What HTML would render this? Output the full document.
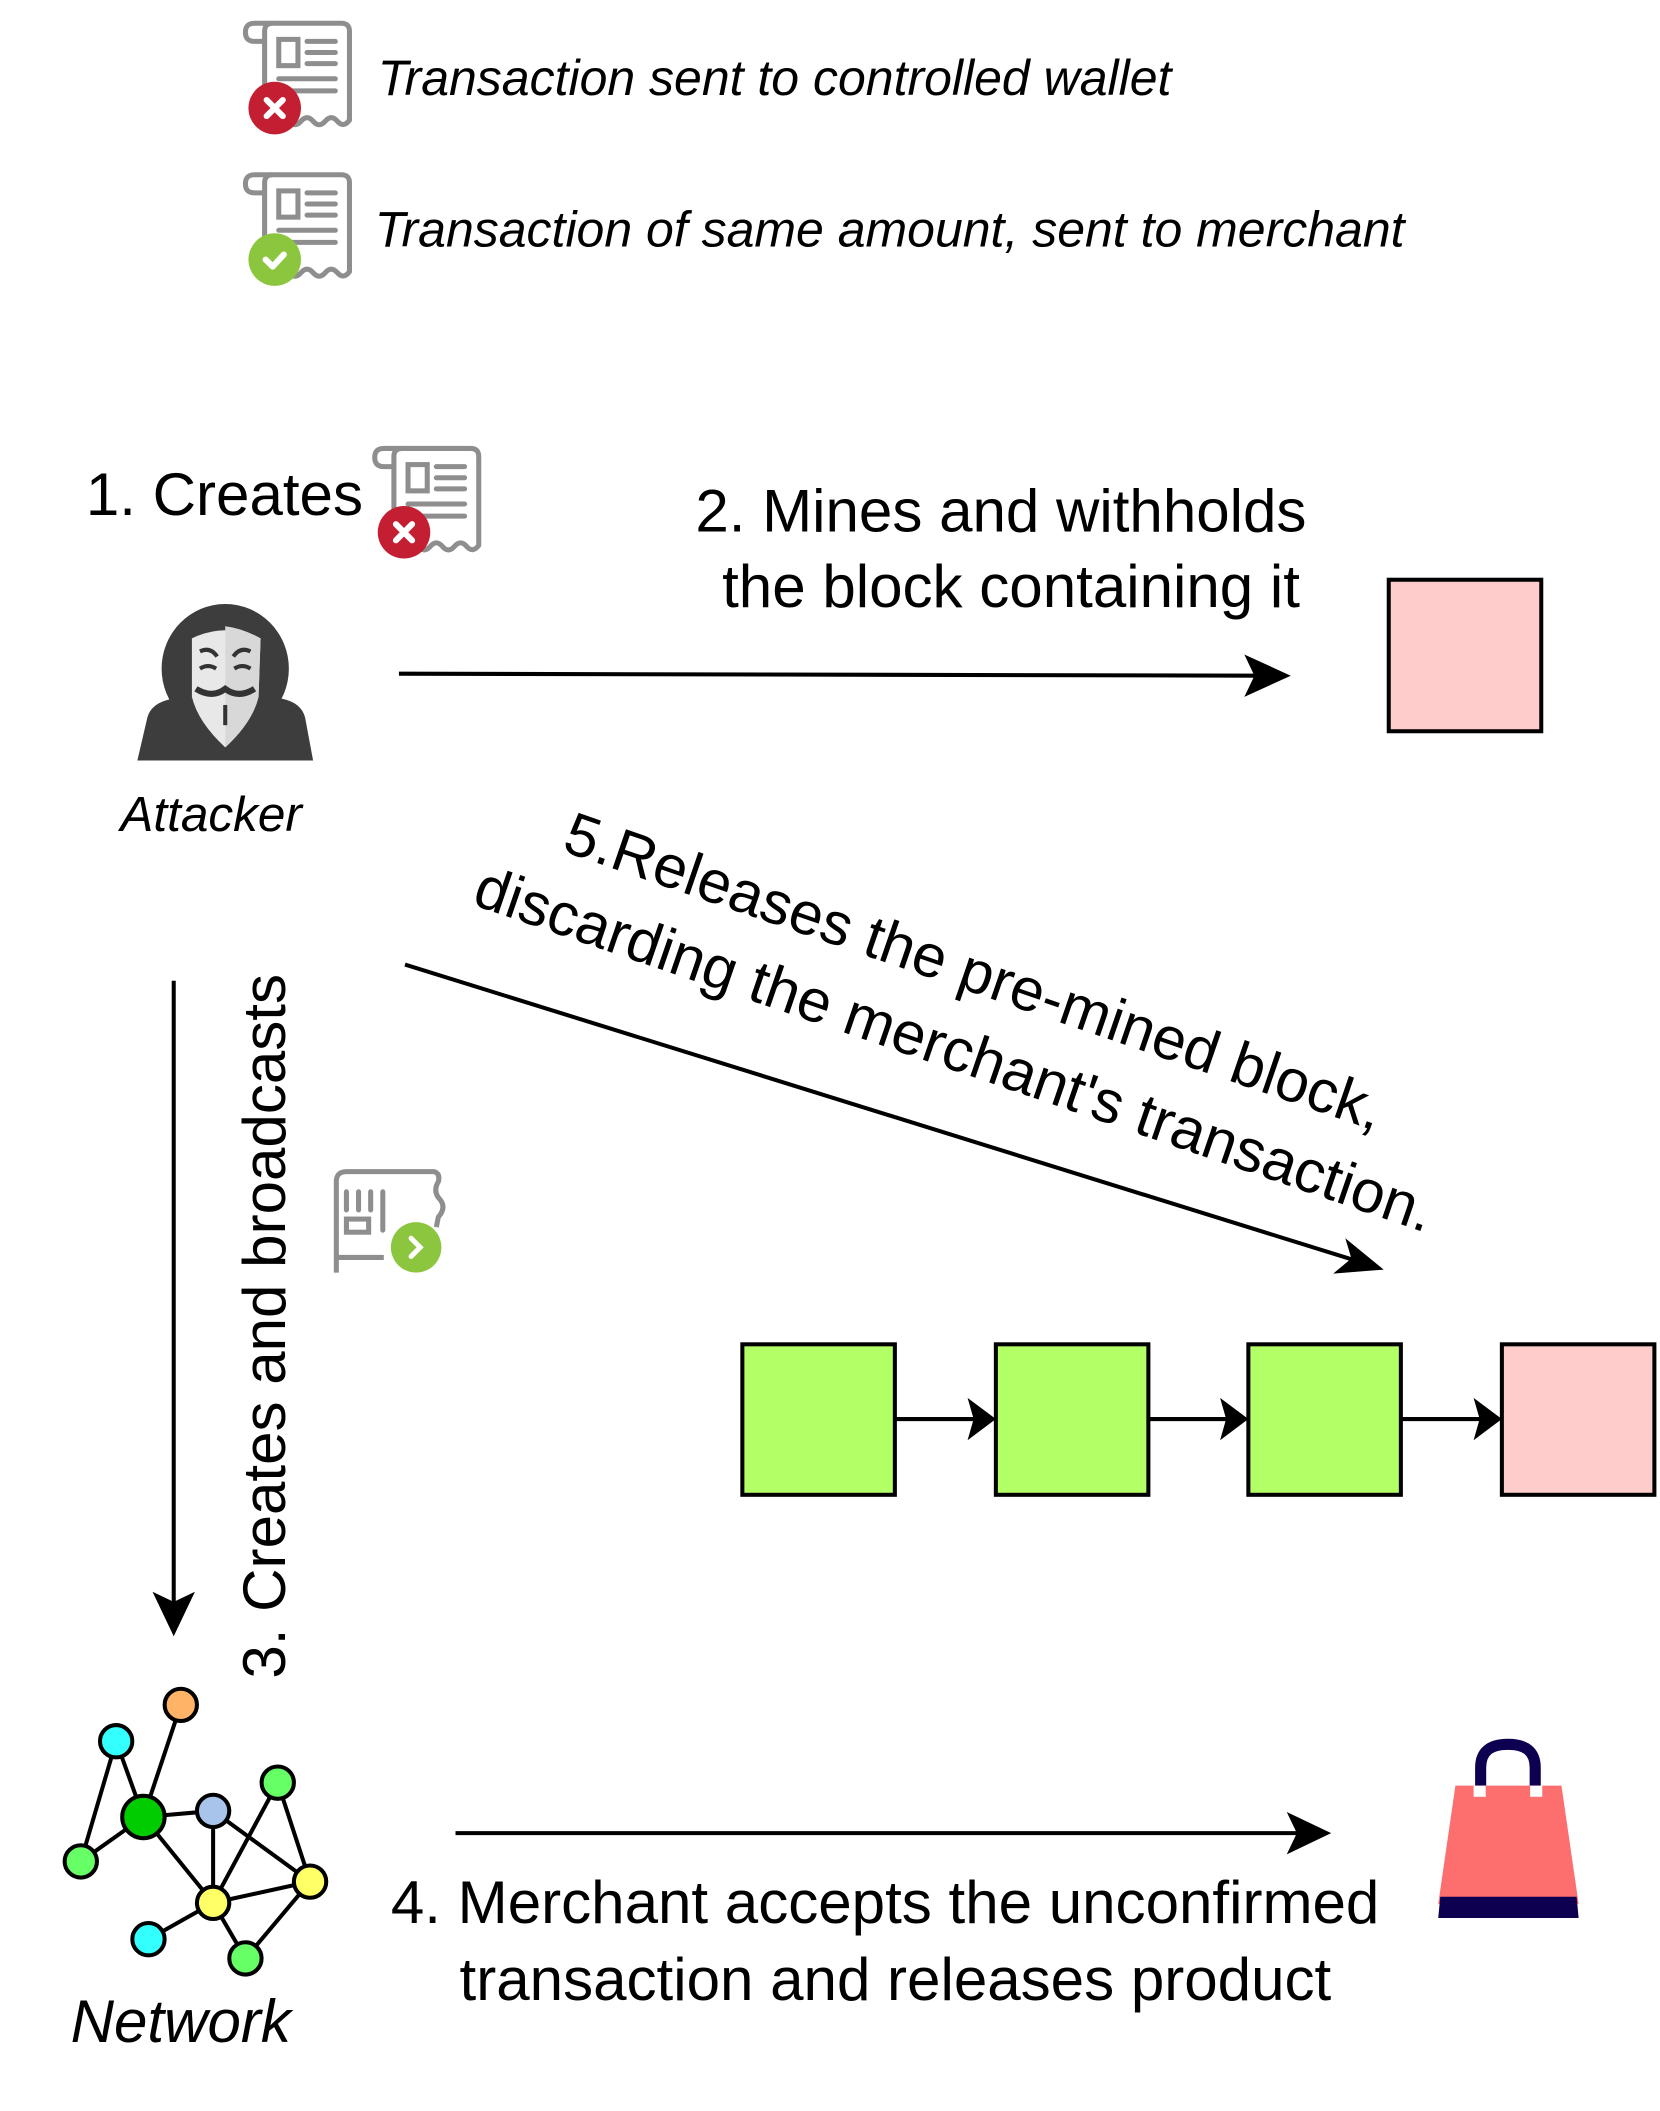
<!DOCTYPE html>
<html><head><meta charset="utf-8"><style>
html,body{margin:0;padding:0;background:#fff;}
svg{display:block;}
text{font-family:"Liberation Sans",Arial,sans-serif;fill:#000;}
</style></head><body>
<svg width="1660" height="2111" viewBox="0 0 1660 2111" xmlns="http://www.w3.org/2000/svg">
<defs>
<g id="receipt">
  <path d="M22 95 L22 12 Q22 4 30 4 L98 4 Q106 4 106 12 L106 100 Q100 108 94 101 Q88 94 82 101 Q76 108 70 101 Q64 94 58 101 Q52 108 46 101 L40 96" fill="none" stroke="#8e8e8e" stroke-width="5" stroke-linejoin="round"/>
  <path d="M30 4 L12 4 Q3 4 3 13 Q3 22 12 22 L22 22" fill="none" stroke="#8e8e8e" stroke-width="5" stroke-linejoin="round"/>
  <rect x="36" y="20" width="19" height="26" fill="none" stroke="#8e8e8e" stroke-width="5"/>
  <line x1="64" y1="22" x2="92" y2="22" stroke="#8e8e8e" stroke-width="5" stroke-linecap="round"/>
  <line x1="64" y1="33" x2="92" y2="33" stroke="#8e8e8e" stroke-width="5" stroke-linecap="round"/>
  <line x1="64" y1="44" x2="92" y2="44" stroke="#8e8e8e" stroke-width="5" stroke-linecap="round"/>
  <line x1="36" y1="59" x2="92" y2="59" stroke="#8e8e8e" stroke-width="5" stroke-linecap="round"/>
  <line x1="48" y1="71" x2="92" y2="71" stroke="#8e8e8e" stroke-width="5" stroke-linecap="round"/>
</g>
<g id="xbadge">
  <circle cx="0" cy="0" r="26" fill="#c41e32"/>
  <path d="M-8 -8 L8 8 M8 -8 L-8 8" stroke="#fff" stroke-width="6" stroke-linecap="round"/>
</g>
<g id="vbadge">
  <circle cx="0" cy="0" r="26" fill="#8cc63f"/>
  <path d="M-9 0 L-2 7 L9 -5" stroke="#fff" stroke-width="6" fill="none" stroke-linecap="round" stroke-linejoin="round"/>
</g>
</defs>
<g transform="scale(1.01)">
<!-- legend -->
<use href="#receipt" x="240" y="19"/>
<use href="#xbadge" x="272" y="107"/>
<text x="374" y="94" font-size="49.5" font-style="italic">Transaction sent to controlled wallet</text>

<use href="#receipt" x="240" y="169"/>
<use href="#vbadge" x="272" y="257"/>
<text x="371" y="244" font-size="49.5" font-style="italic">Transaction of same amount, sent to merchant</text>

<!-- 1. Creates -->
<text x="85" y="510" font-size="59.5">1. Creates</text>
<use href="#receipt" x="368" y="440"/>
<use href="#xbadge" x="400" y="527"/>

<!-- attacker -->
<g>
  <path d="M136 753 L146 710 Q150 696 170 692 L190 688 L258 688 L280 692 Q298 696 302 710 L310 753 Z" fill="#3d3d3d"/>
  <ellipse cx="223" cy="662" rx="63" ry="64" fill="#3d3d3d"/>
  <path d="M192 688 L223 740 L254 688 Z" fill="#f2b2b2"/>
  <path d="M190 632 Q223 616 258 632 L256 690 Q250 715 223 740 Q196 715 190 690 Z" fill="#e8e8e8"/>
  <path d="M223 620 Q240 622 258 632 L256 690 Q250 715 223 740 Z" fill="#d8d8d8"/>
  <path d="M198 645 Q208 640 215 650 M231 650 Q238 640 248 645" stroke="#333" stroke-width="4" fill="none"/>
  <path d="M198 662 Q206 657 214 662 M232 662 Q240 657 248 662" stroke="#333" stroke-width="4" fill="none"/>
  <path d="M194 682 Q210 692 223 682 Q236 692 252 682" stroke="#333" stroke-width="6" fill="none"/>
  <path d="M223 698 L223 718" stroke="#333" stroke-width="4"/>
</g>
<text x="209" y="823" font-size="49" font-style="italic" text-anchor="middle">Attacker</text>

<!-- 2. Mines -->
<text x="991" y="526" font-size="59.5" text-anchor="middle">2. Mines and withholds</text>
<text x="1001" y="601" font-size="59.5" text-anchor="middle">the block containing it</text>
<rect x="1375" y="574" width="151" height="150" fill="#ffcccc" stroke="#000" stroke-width="4"/>
<line x1="395" y1="667" x2="1250" y2="669" stroke="#000" stroke-width="4"/>
<path d="M1278 669 L1232 648 L1242 669 L1232 690 Z" fill="#000"/>

<!-- 5. Releases -->
<g transform="translate(555,842) rotate(19)">
  <text x="0" y="0" font-size="59.5">5.Releases the pre-mined block,</text>
</g>
<g transform="translate(466,895) rotate(19)">
  <text x="0" y="0" font-size="59.5">discarding the merchant's transaction.</text>
</g>
<line x1="401" y1="955" x2="1345" y2="1249" stroke="#000" stroke-width="4"/>
<path d="M1370 1257 L1332 1226 L1338 1246 L1320 1261 Z" fill="#000"/>

<!-- 3. vertical -->
<line x1="172" y1="971" x2="172" y2="1600" stroke="#000" stroke-width="4"/>
<path d="M172 1620 L151 1576 L172 1586 L193 1576 Z" fill="#000"/>
<g transform="translate(282,1662) rotate(-90)">
  <text x="0" y="0" font-size="59.5">3. Creates and broadcasts</text>
</g>
<!-- broadcast icon -->
<g>
  <path d="M333 1260 L333 1170 Q333 1160 343 1160 L430 1160 Q436 1162 434 1170 Q428 1180 436 1188 Q442 1196 434 1205 L432 1215" fill="none" stroke="#8e8e8e" stroke-width="5" stroke-linejoin="round"/>
  <path d="M333 1245 L380 1245" stroke="#8e8e8e" stroke-width="5"/>
  <path d="M343 1180 L343 1198 M355 1180 L355 1198 M367 1180 L367 1198 M379 1180 L379 1218" stroke="#8e8e8e" stroke-width="5" stroke-linecap="round"/>
  <rect x="343" y="1207" width="22" height="13" fill="none" stroke="#8e8e8e" stroke-width="5"/>
  <circle cx="412" cy="1235" r="25" fill="#8cc63f"/>
  <path d="M407 1226 L416 1235 L407 1244" stroke="#fff" stroke-width="5" fill="none" stroke-linecap="round"/>
</g>

<!-- chain -->
<rect x="735" y="1331" width="151" height="149" fill="#b3ff66" stroke="#000" stroke-width="4"/>
<rect x="986" y="1331" width="151" height="149" fill="#b3ff66" stroke="#000" stroke-width="4"/>
<rect x="1236" y="1331" width="151" height="149" fill="#b3ff66" stroke="#000" stroke-width="4"/>
<rect x="1487" y="1331" width="151" height="149" fill="#ffcccc" stroke="#000" stroke-width="4"/>
<g stroke="#000" stroke-width="4">
<line x1="886" y1="1405" x2="965" y2="1405"/>
<line x1="1137" y1="1405" x2="1216" y2="1405"/>
<line x1="1387" y1="1405" x2="1466" y2="1405"/>
</g>
<path d="M986 1405 L958 1384 L964 1405 L958 1426 Z" fill="#000"/>
<path d="M1236 1405 L1208 1384 L1214 1405 L1208 1426 Z" fill="#000"/>
<path d="M1487 1405 L1459 1384 L1465 1405 L1459 1426 Z" fill="#000"/>

<!-- network -->
<g stroke="#000" stroke-width="4">
<line x1="115" y1="1724" x2="142" y2="1799"/>
<line x1="115" y1="1724" x2="80" y2="1843"/>
<line x1="179" y1="1688" x2="142" y2="1799"/>
<line x1="142" y1="1799" x2="80" y2="1843"/>
<line x1="142" y1="1799" x2="211" y2="1793"/>
<line x1="142" y1="1799" x2="211" y2="1884"/>
<line x1="211" y1="1793" x2="211" y2="1884"/>
<line x1="211" y1="1793" x2="307" y2="1863"/>
<line x1="275" y1="1765" x2="307" y2="1863"/>
<line x1="275" y1="1765" x2="211" y2="1884"/>
<line x1="211" y1="1884" x2="307" y2="1863"/>
<line x1="211" y1="1884" x2="147" y2="1920"/>
<line x1="211" y1="1884" x2="243" y2="1939"/>
<line x1="307" y1="1863" x2="243" y2="1939"/>
</g>
<g stroke="#000" stroke-width="4">
<circle cx="179" cy="1688" r="16" fill="#ffb366"/>
<circle cx="115" cy="1724" r="16" fill="#33ffff"/>
<circle cx="142" cy="1799" r="21" fill="#00cc00"/>
<circle cx="211" cy="1793" r="16" fill="#a9c4eb"/>
<circle cx="275" cy="1765" r="16" fill="#66ff66"/>
<circle cx="80" cy="1843" r="16" fill="#66ff66"/>
<circle cx="211" cy="1884" r="16" fill="#ffff66"/>
<circle cx="307" cy="1863" r="16" fill="#ffff66"/>
<circle cx="147" cy="1920" r="16" fill="#33ffff"/>
<circle cx="243" cy="1939" r="16" fill="#66ff66"/>
</g>
<text x="179" y="2022" font-size="59.5" font-style="italic" text-anchor="middle">Network</text>

<!-- 4. merchant -->
<line x1="451" y1="1815" x2="1295" y2="1815" stroke="#000" stroke-width="4"/>
<path d="M1318 1815 L1274 1794 L1284 1815 L1274 1836 Z" fill="#000"/>
<text x="387" y="1904" font-size="59.5">4. Merchant accepts the unconfirmed</text>
<text x="455" y="1980" font-size="59.5">transaction and releases product</text>

<!-- bag -->
<path d="M1466 1768 L1466 1750 Q1466 1727 1493 1727 Q1520 1727 1520 1750 L1520 1768" fill="none" stroke="#0d0050" stroke-width="11"/>
<path d="M1441 1768 L1546 1768 L1563 1885 L1424 1885 Z" fill="#fd6e6e"/>
<rect x="1459" y="1768" width="12" height="11" fill="#fff"/>
<rect x="1515" y="1768" width="12" height="11" fill="#fff"/>
<path d="M1426 1878 L1561 1878 L1563 1899 L1424 1899 Z" fill="#0d0050"/>
</g>
</svg>
</body></html>
